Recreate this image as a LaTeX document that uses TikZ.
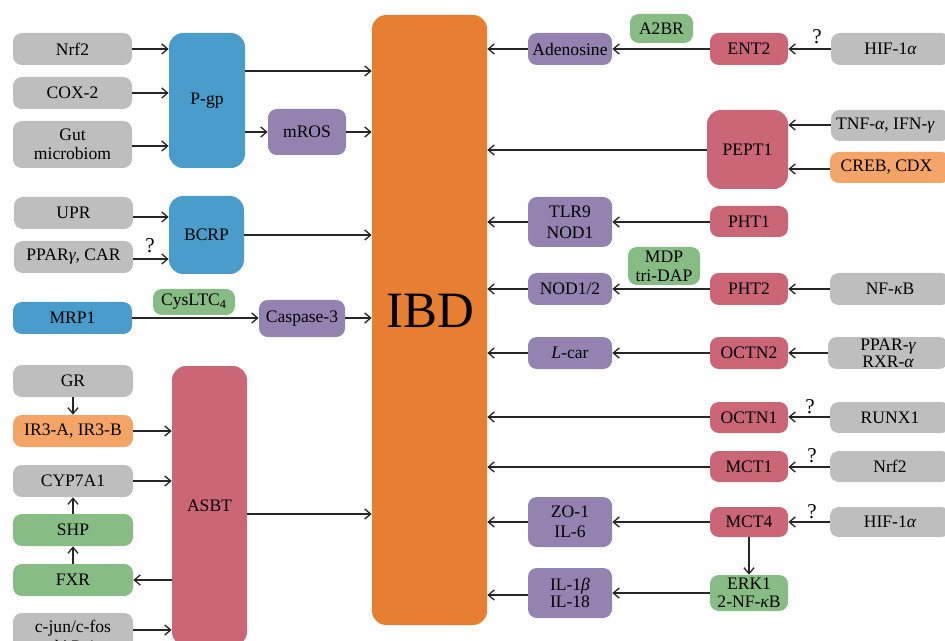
\documentclass[tikz,border=0pt]{standalone}
\usepackage{fontspec}
\setmainfont{Liberation Serif}
\usetikzlibrary{arrows.meta}
\definecolor{cgray}{HTML}{BEBEBF}
\definecolor{cblue}{HTML}{4A9CCA}
\definecolor{cpurp}{HTML}{9482B1}
\definecolor{cpink}{HTML}{CB6677}
\definecolor{cgreen}{HTML}{87BD84}
\definecolor{corng}{HTML}{F3A466}
\definecolor{cibd}{HTML}{E87E31}
\tikzset{
  bx/.style={inner sep=0pt, rounded corners=5pt, text=black, align=center,
    font=\fontsize{10}{11}\selectfont},
  sz/.style 2 args={minimum width=#1*0.02cm, minimum height=#2*0.02cm},
  gbox/.style={bx, fill=cgray},
  bbox/.style={bx, fill=cblue},
  pbox/.style={bx, fill=cpurp},
  rbox/.style={bx, fill=cpink},
  grbox/.style={bx, fill=cgreen},
  obox/.style={bx, fill=corng},
  big/.style={rounded corners=8pt},
  arr/.style={-{Straight Barb[length=3.4pt,width=5.8pt]}, line width=0.75pt, black!85},
  qm/.style={font=\fontsize{12}{12}\selectfont, inner sep=0pt},
}
\begin{document}
\begin{tikzpicture}[x=0.02cm,y=-0.02cm]
\useasboundingbox (0,0) rectangle (945,641);
\clip (0,0) rectangle (945,641);
% IBD
\node[sz={115}{610}, inner sep=0pt, fill=cibd, rounded corners=8pt, font=\fontsize{29}{30}\selectfont] at (429.5,320) (ibd) {};
\node at (430,311) [font=\fontsize{29}{30}\selectfont] (ibdt) {IBD};
% left top
\node[gbox, sz={119}{32}] at (72.5,49) (nrf2l) {Nrf2};
\node[gbox, sz={119}{32}] at (72.5,93) (cox) {COX-2};
\node[gbox, sz={119}{47}] at (72.5,144.5) (gut) {Gut\\microbiom};
\node[bbox, big, sz={76}{135}] at (207,100.5) (pgp) {P-gp};
\node[pbox, sz={78}{46}] at (307,132) (mros) {mROS};
\node[gbox, sz={119}{32}] at (73.5,213) (upr) {UPR};
\node[gbox, sz={119}{32}] at (73.5,257) (ppar) {PPAR{\itshape γ}, CAR};
\node[bbox, big, sz={75}{78}] at (206.5,235) (bcrp) {BCRP};
\node[grbox, sz={82}{26}] at (194,302) (cys) {CysLTC\textsubscript{4}};
\node[bbox, sz={119}{32}] at (72.5,318) (mrp) {MRP1};
\node[pbox, sz={86}{37}] at (302,318.5) (casp) {Caspase-3};
\node[gbox, sz={120}{32}] at (73,381) (gr) {GR};
\node[obox, sz={120}{32}] at (73,431) (ir3) {IR3-A, IR3-B};
\node[gbox, sz={120}{32}] at (73,481) (cyp) {CYP7A1};
\node[grbox, sz={120}{32}] at (73,530) (shp) {SHP};
\node[grbox, sz={120}{32}] at (73,580) (fxr) {FXR};
\node[gbox, sz={120}{47}] at (73,636.5) (cjun) {c-jun/c-fos\\dAP-1};
\node[rbox, big, sz={75}{280}] at (209.5,506) (asbt) {ASBT};
% left arrows
\draw[arr] (nrf2l.east) -- (pgp.west |- nrf2l.east);
\draw[arr] (cox.east) -- (pgp.west |- cox.east);
\draw[arr] (gut.east |- 0,146) -- (pgp.west |- 0,146);
\draw[arr] (pgp.east |- 0,71) -- (ibd.west |- 0,71);
\draw[arr] (pgp.east |- mros.west) -- (mros.west);
\draw[arr] (mros.east) -- (ibd.west |- mros.east);
\draw[arr] (upr.east |- 0,217) -- (bcrp.west |- 0,217);
\draw[arr] (ppar.east |- 0,259) -- (bcrp.west |- 0,259);
\node[qm] at (150,246) (q1) {?};
\draw[arr] (bcrp.east) -- (ibd.west |- bcrp.east);
\draw[arr] (mrp.east) -- (casp.west |- mrp.east);
\draw[arr] (casp.east |- 0,318) -- (ibd.west |- 0,318);
\draw[arr] (gr.south) -- (ir3.north);
\draw[arr] (ir3.east) -- (asbt.west |- ir3.east);
\draw[arr] (cyp.east) -- (asbt.west |- cyp.east);
\draw[arr] (shp.north) -- (cyp.south);
\draw[arr] (fxr.north) -- (shp.south);
\draw[arr] (asbt.west |- fxr.east) -- (fxr.east);
\draw[arr] (cjun.east |- 0,630) -- (asbt.west |- 0,630);
\draw[arr] (asbt.east |- 0,514) -- (ibd.west |- 0,514);
% right side
\node[pbox, sz={84}{32}] at (570,49) (aden) {Adenosine};
\node[grbox, sz={63}{29}] at (661.5,28.5) (a2br) {A2BR};
\node[rbox, sz={78}{32}] at (749,49) (ent2) {ENT2};
\node[gbox, sz={119}{32}] at (890.5,49) (hif1) {HIF-1{\itshape α}};
\node[qm] at (817,37) (q2) {?};
\node[rbox, big, sz={81}{79}] at (747.5,149.5) (pept) {PEPT1};
\node[gbox, sz={119}{31}] at (890.5,125.5) (tnf) {\hspace*{-6pt}TNF-{\itshape α}, IFN-{\itshape γ}};
\node[obox, sz={120}{31}] at (890,167.5) (creb) {\hspace*{-4pt}CREB, CDX};
\node[pbox, sz={84}{50}] at (570,222) (tlr) {TLR9\\[1pt]NOD1};
\node[rbox, sz={78}{31}] at (749,221.5) (pht1) {PHT1};
\node[grbox, sz={72}{38}] at (664,266) (mdp) {MDP\\tri-DAP};
\node[pbox, sz={84}{32}] at (570,289) (nod) {NOD1/2};
\node[rbox, sz={78}{32}] at (749,289) (pht2) {PHT2};
\node[gbox, sz={120}{32}] at (890,289) (nfkb) {NF-{\itshape κ}B};
\node[pbox, sz={84}{32}] at (570,353) (lcar) {{\itshape L}-car};
\node[rbox, sz={78}{32}] at (749,353) (octn2) {OCTN2};
\node[gbox, sz={120}{32}, font=\fontsize{10}{8.5}\selectfont] at (888,353) (pparr) {PPAR-{\itshape γ}\\RXR-{\itshape α}};
\node[rbox, sz={78}{31}] at (749,417.5) (octn1) {OCTN1};
\node[gbox, sz={120}{31}] at (890,417.5) (runx) {RUNX1};
\node[qm] at (810,407) (q3) {?};
\node[rbox, sz={78}{31}] at (749,466.5) (mct1) {MCT1};
\node[gbox, sz={120}{31}] at (890,466.5) (nrf2r) {Nrf2};
\node[qm] at (812,456) (q4) {?};
\node[pbox, sz={84}{50}] at (570,522) (zo) {ZO-1\\[0.5pt]IL-6};
\node[rbox, sz={78}{30}] at (749,522) (mct4) {MCT4};
\node[gbox, sz={120}{30}] at (890,522) (hif2) {HIF-1{\itshape α}};
\node[qm] at (812,512) (q5) {?};
\node[grbox, sz={78}{36}] at (749,593) (erk) {ERK1\\[-1pt]2-NF-{\itshape κ}B};
\node[pbox, sz={84}{50}] at (570,593) (il) {IL-1{\itshape β}\\[-1pt]IL-18};
% right arrows
\draw[arr] (hif1.west) -- (ent2.east);
\draw[arr] (ent2.west) -- (aden.east);
\draw[arr] (aden.west) -- (ibd.east |- aden.west);
\draw[arr] (tnf.west |- 0,125) -- (pept.east |- 0,125);
\draw[arr] (creb.west |- 0,169) -- (pept.east |- 0,169);
\draw[arr] (pept.west |- 0,150) -- (ibd.east |- 0,150);
\draw[arr] (pht1.west |- 0,222) -- (tlr.east |- 0,222);
\draw[arr] (tlr.west |- 0,222) -- (ibd.east |- 0,222);
\draw[arr] (nfkb.west) -- (pht2.east);
\draw[arr] (pht2.west) -- (nod.east);
\draw[arr] (nod.west) -- (ibd.east |- nod.west);
\draw[arr] (pparr.west) -- (octn2.east);
\draw[arr] (octn2.west) -- (lcar.east);
\draw[arr] (lcar.west) -- (ibd.east |- lcar.west);
\draw[arr] (runx.west |- 0,417) -- (octn1.east |- 0,417);
\draw[arr] (octn1.west |- 0,417) -- (ibd.east |- 0,417);
\draw[arr] (nrf2r.west |- 0,467) -- (mct1.east |- 0,467);
\draw[arr] (mct1.west |- 0,467) -- (ibd.east |- 0,467);
\draw[arr] (hif2.west) -- (mct4.east);
\draw[arr] (mct4.west) -- (zo.east |- mct4.west);
\draw[arr] (zo.west |- mct4.west) -- (ibd.east |- mct4.west);
\draw[arr] (mct4.south) -- (erk.north);
\draw[arr] (erk.west) -- (il.east |- erk.west);
\draw[arr] (il.west |- 0,595) -- (ibd.east |- 0,595);
\end{tikzpicture}
\end{document}
